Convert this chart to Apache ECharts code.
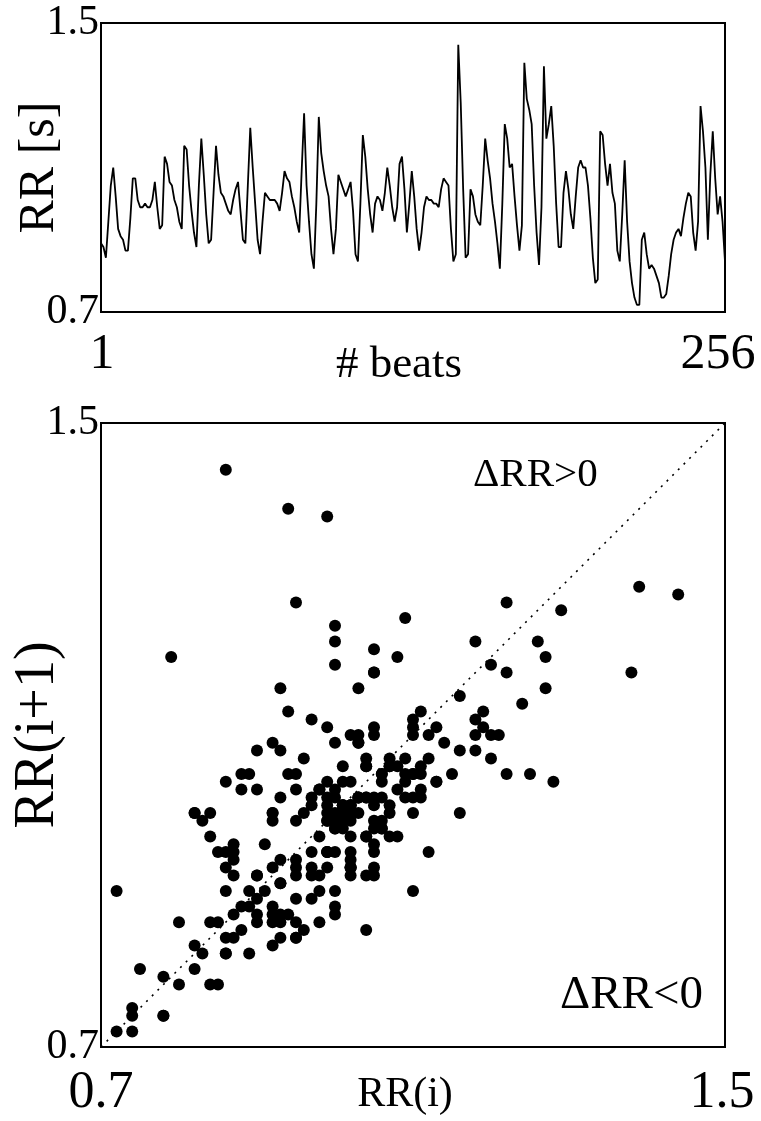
<!DOCTYPE html>
<html>
<head>
<meta charset="utf-8">
<script src="https://cdn.jsdelivr.net/npm/echarts@6/dist/echarts.min.js"></script>
<style>
html,body{margin:0;padding:0;background:#fff;}
#chart{width:761px;height:1121px;}
</style>
</head>
<body>
<div id="chart"></div>
<script>
// RR intervals [s] for 256 consecutive beats
const rr = [
0.89,0.88,0.85,0.95,1.05,1.10,1.02,0.93,0.91,0.90,
0.87,0.87,0.96,1.07,1.07,1.01,0.99,0.99,1.00,0.99,
0.99,1.01,1.06,0.99,0.93,0.94,1.13,1.11,1.06,1.05,
1.01,0.99,0.95,0.93,1.16,1.15,1.05,0.98,0.92,0.88,
1.05,1.18,1.08,0.97,0.89,0.90,1.03,1.16,1.08,1.03,
1.02,1.00,0.98,0.97,1.01,1.04,1.06,0.98,0.90,0.89,
1.05,1.21,1.10,1.00,0.90,0.86,0.95,1.03,1.02,1.01,
1.01,1.01,1.00,0.98,1.03,1.09,1.07,1.06,1.02,0.99,
0.95,0.92,1.09,1.25,1.05,0.95,0.86,0.82,1.00,1.24,
1.14,1.09,1.05,1.02,0.93,0.86,0.93,1.08,1.06,1.04,
1.02,1.04,1.06,0.98,0.86,0.84,1.00,1.19,1.13,1.04,
0.97,0.92,1.00,1.02,1.01,0.98,1.03,1.10,1.05,0.99,
0.95,0.99,1.11,1.13,1.04,0.92,1.00,1.09,1.02,0.93,
0.87,0.92,0.99,1.02,1.01,1.01,1.00,1.00,0.99,1.04,
1.07,1.06,1.05,0.93,0.84,0.86,1.44,1.28,1.04,0.85,
0.86,1.04,1.02,0.97,0.95,0.94,1.05,1.18,1.12,1.07,
1.00,0.95,0.89,0.82,1.00,1.22,1.18,1.10,1.11,1.02,
0.94,0.87,0.94,1.39,1.29,1.26,1.22,1.05,0.92,0.83,
0.99,1.38,1.18,1.22,1.27,1.16,1.00,0.88,0.88,1.03,
1.09,1.04,0.97,0.93,1.02,1.10,1.12,1.10,1.10,1.05,
0.96,0.85,0.78,0.79,1.20,1.19,1.11,1.05,1.11,1.03,
1.00,0.87,0.84,0.97,1.12,0.95,0.84,0.78,0.74,0.72,
0.72,0.90,0.92,0.86,0.82,0.83,0.82,0.80,0.78,0.74,
0.74,0.75,0.80,0.86,0.90,0.92,0.93,0.91,0.96,1.00,
1.03,1.02,0.92,0.87,0.95,1.27,1.20,1.10,0.90,1.08,
1.20,1.07,0.97,1.02,0.95,0.84
];
const beatTicks = [1, 256];
const rrTicks = [0.7, 1.5];
const identityLine = [[0.7, 0.7], [1.5, 1.5]];
const regionLabels = ['\u0394RR>0', '\u0394RR<0'];

const beats = rr.map((v, i) => [i + 1, v]);
const poincare = rr.slice(0, -1).map((v, i) => [v, rr[i + 1]]);

const FONT = 'Liberation Serif';
const yTick = {fontFamily: FONT, fontSize: 42, color: '#000'};

function axisBase() {
  return {axisLine: {show: false}, axisTick: {show: false}, splitLine: {show: false}, nameMoveOverlap: false};
}

const chart = echarts.init(document.getElementById('chart'), null, {renderer: 'canvas'});
chart.setOption({
  animation: false,
  backgroundColor: '#fff',
  grid: [
    {left: 101, top: 23, width: 624, height: 289, show: true, borderColor: '#000', borderWidth: 2,
     backgroundColor: 'transparent', outerBoundsMode: 'none', containLabel: false},
    {left: 101, top: 423, width: 624, height: 624, show: true, borderColor: '#000', borderWidth: 2,
     backgroundColor: 'transparent', outerBoundsMode: 'none', containLabel: false}
  ],
  xAxis: [
    Object.assign(axisBase(), {gridIndex: 0, type: 'value', min: 1, max: 256,
     name: '# beats', nameLocation: 'middle', nameGap: 31,
     nameTextStyle: {fontFamily: FONT, fontSize: 45, color: '#000', padding: [0, 28, 0, 0]},
     axisLabel: {customValues: beatTicks, margin: 18, hideOverlap: false,
       fontFamily: FONT, fontSize: 50, color: '#000',
       formatter: v => (v === 256 ? '{r|256}' : '{l|' + v + '}'),
       rich: {r: {fontFamily: FONT, fontSize: 50, color: '#000', padding: [0, 14, 0, 0]},
              l: {fontFamily: FONT, fontSize: 50, color: '#000', padding: [0, 0, 0, 2]}}}}),
    Object.assign(axisBase(), {gridIndex: 1, type: 'value', min: 0.7, max: 1.5,
     name: 'RR(i)', nameLocation: 'middle', nameGap: 27,
     nameTextStyle: {fontFamily: FONT, fontSize: 42, color: '#000', padding: [0, 16, 0, 0]},
     axisLabel: {customValues: rrTicks, margin: 20, hideOverlap: false,
       fontFamily: FONT, fontSize: 52, color: '#000',
       formatter: v => (v > 1 ? '{r|' + v.toFixed(1) + '}' : '{l|' + v.toFixed(1) + '}'),
       rich: {r: {fontFamily: FONT, fontSize: 52, color: '#000', padding: [0, 6, 0, 0]},
              l: {fontFamily: FONT, fontSize: 52, color: '#000'}}}})
  ],
  yAxis: [
    Object.assign(axisBase(), {gridIndex: 0, type: 'value', min: 0.7, max: 1.5,
     name: 'RR [s]', nameLocation: 'middle', nameGap: 36,
     nameTextStyle: {fontFamily: FONT, fontSize: 50, color: '#000'},
     axisLabel: Object.assign({customValues: rrTicks, margin: 2, formatter: v => v.toFixed(1), hideOverlap: false}, yTick)}),
    Object.assign(axisBase(), {gridIndex: 1, type: 'value', min: 0.7, max: 1.5,
     name: 'RR(i+1)', nameLocation: 'middle', nameGap: 35,
     nameTextStyle: {fontFamily: FONT, fontSize: 56, color: '#000'},
     axisLabel: Object.assign({customValues: rrTicks, margin: 2, formatter: v => v.toFixed(1), hideOverlap: false}, yTick)})
  ],
  series: [
    {type: 'line', xAxisIndex: 0, yAxisIndex: 0, data: beats, showSymbol: false, symbol: 'none',
     lineStyle: {color: '#000', width: 1.8}, silent: true},
    {type: 'line', xAxisIndex: 1, yAxisIndex: 1, data: identityLine, showSymbol: false, symbol: 'none',
     lineStyle: {color: '#000', width: 1.6, type: [2, 6]}, silent: true},
    {type: 'scatter', xAxisIndex: 1, yAxisIndex: 1, data: poincare, symbol: 'circle', symbolSize: 12,
     itemStyle: {color: '#000', opacity: 1}, silent: true}
  ],
  graphic: [
    {type: 'text', left: 473, top: 455, style: {text: regionLabels[0], fontFamily: FONT, fontSize: 41, fill: '#000'}},
    {type: 'text', left: 560, top: 972, style: {text: regionLabels[1], fontFamily: FONT, fontSize: 47, fill: '#000'}}
  ]
});
</script>
</body>
</html>
